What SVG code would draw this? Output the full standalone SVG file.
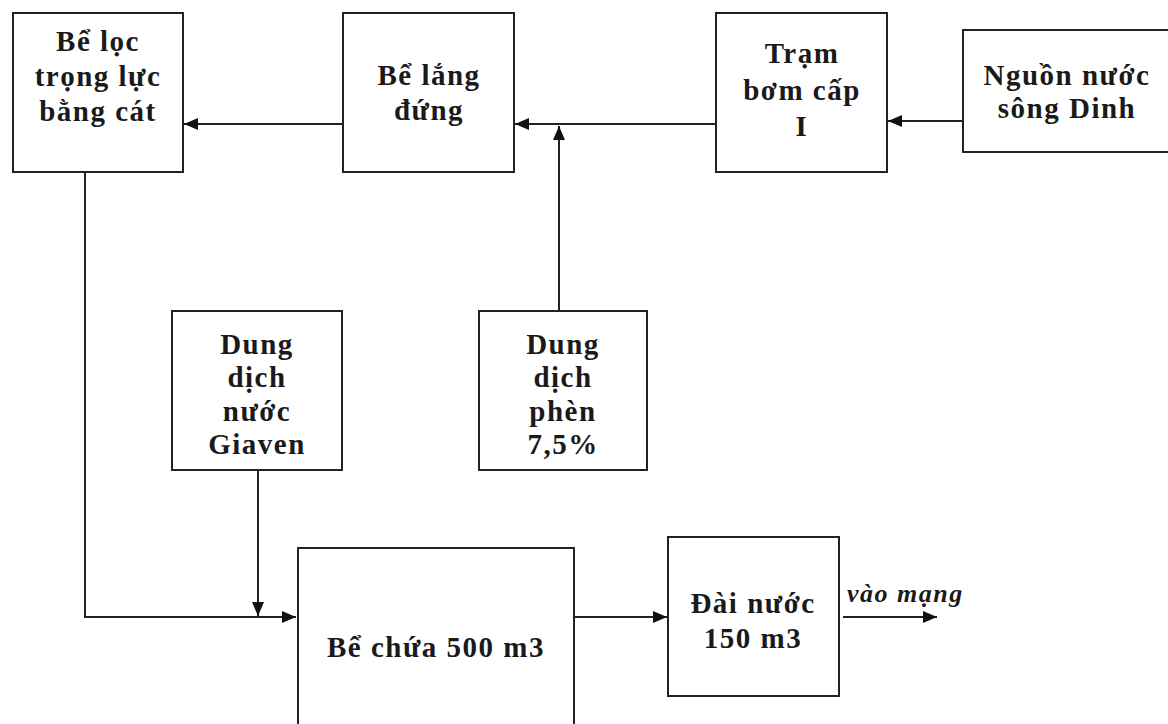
<svg xmlns="http://www.w3.org/2000/svg" width="1168" height="724" viewBox="0 0 1168 724">
<style>
.box{fill:#fff;stroke:#222;stroke-width:2}
.t{font-family:"Liberation Serif","Times New Roman",serif;font-weight:bold;font-size:29px;fill:#1a1a1a;text-anchor:middle;letter-spacing:1.5px}
.it{font-family:"Liberation Serif","Times New Roman",serif;font-weight:bold;font-style:italic;font-size:26px;fill:#1a1a1a;letter-spacing:1.5px}
.c{fill:none;stroke:#222;stroke-width:2}
</style>
<defs>
<marker id="ah" markerUnits="userSpaceOnUse" markerWidth="14" markerHeight="12" viewBox="0 0 14 12" refX="14" refY="6" orient="auto">
<path d="M0,0 L14,6 L0,12 Z" fill="#111"/>
</marker>
</defs>
<rect width="1168" height="724" fill="#fff"/>
<g id="connectors">
<line class="c" x1="343" y1="124" x2="184" y2="124" marker-end="url(#ah)"/>
<line class="c" x1="716" y1="124" x2="515" y2="124" marker-end="url(#ah)"/>
<line class="c" x1="559" y1="311" x2="559" y2="126" marker-end="url(#ah)"/>
<line class="c" x1="963" y1="121" x2="888" y2="121" marker-end="url(#ah)"/>
<polyline class="c" points="85,172 85,617 296,617" marker-end="url(#ah)"/>
<line class="c" x1="258" y1="470" x2="258" y2="616" marker-end="url(#ah)"/>
<line class="c" x1="574" y1="617" x2="667" y2="617" marker-end="url(#ah)"/>
<line class="c" x1="843" y1="617" x2="937" y2="617" marker-end="url(#ah)"/>
</g>
<g id="be-loc">
<rect class="box" x="13" y="13" width="170" height="159"/>
<text class="t" x="98" y="51">Bể lọc</text>
<text class="t" x="98" y="86">trọng lực</text>
<text class="t" x="98" y="121">bằng cát</text>
</g>
<g id="be-lang">
<rect class="box" x="343" y="13" width="171" height="159"/>
<text class="t" x="429" y="85">Bể lắng</text>
<text class="t" x="429" y="120">đứng</text>
</g>
<g id="tram-bom">
<rect class="box" x="716" y="13" width="171" height="159"/>
<text class="t" x="802" y="63">Trạm</text>
<text class="t" x="802" y="100">bơm cấp</text>
<text class="t" x="802" y="136">I</text>
</g>
<g id="nguon-nuoc">
<path class="box" d="M1170,30 L963,30 L963,152 L1170,152"/>
<text class="t" x="1067" y="85">Nguồn nước</text>
<text class="t" x="1067" y="118">sông Dinh</text>
</g>
<g id="giaven">
<rect class="box" x="172" y="311" width="170" height="159"/>
<text class="t" x="257" y="354">Dung</text>
<text class="t" x="257" y="387">dịch</text>
<text class="t" x="257" y="421">nước</text>
<text class="t" x="257" y="454">Giaven</text>
</g>
<g id="phen">
<rect class="box" x="479" y="311" width="168" height="159"/>
<text class="t" x="563" y="354">Dung</text>
<text class="t" x="563" y="387">dịch</text>
<text class="t" x="563" y="421">phèn</text>
<text class="t" x="563" y="454">7,5%</text>
</g>
<g id="be-chua">
<path class="box" d="M298,726 L298,548 L574,548 L574,726"/>
<text class="t" x="436" y="657">Bể chứa 500 m3</text>
</g>
<g id="dai-nuoc">
<rect class="box" x="668" y="537" width="171" height="159"/>
<text class="t" x="753" y="613">Đài nước</text>
<text class="t" x="753" y="648">150 m3</text>
</g>
<g id="label-out">
<text class="it" x="847" y="602">vào mạng</text>
</g>
</svg>
